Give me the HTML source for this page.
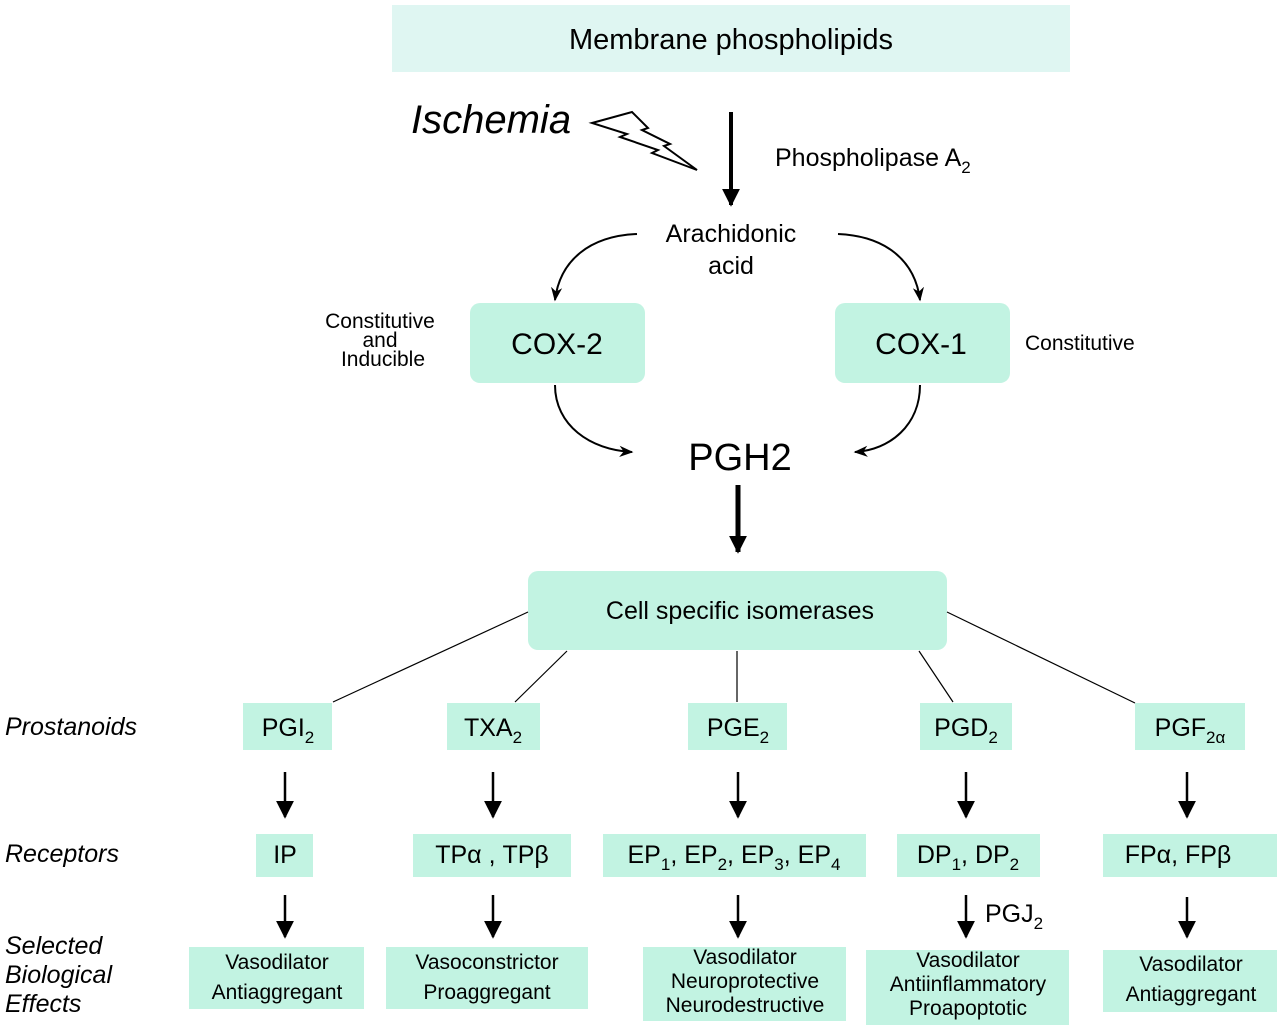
<!DOCTYPE html>
<html><head><meta charset="utf-8"><style>
html,body{margin:0;padding:0;background:#fff}
svg{display:block}
text{font-family:"Liberation Sans",sans-serif;fill:#000}
.b{fill:#c2f3e2}
.i{font-style:italic}
</style></head><body>
<svg width="1280" height="1028" viewBox="0 0 1280 1028" xmlns="http://www.w3.org/2000/svg">
<defs>
<marker id="s" viewBox="0 0 10 10" markerWidth="14" markerHeight="14" refX="9" refY="5" orient="auto" markerUnits="userSpaceOnUse"><path d="M0,1 L10,5 L0,9 L3,5 z" fill="#000"/></marker>
<marker id="t" viewBox="0 0 10 10" markerWidth="18" markerHeight="20" refX="9" refY="5" orient="auto" markerUnits="userSpaceOnUse"><path d="M0,0 L10,5 L0,10 z" fill="#000"/></marker>
</defs>
<rect x="392" y="5" width="678" height="67" fill="#dff6f2"/>
<text x="731" y="49" font-size="29" text-anchor="middle">Membrane phospholipids</text>
<text x="411" y="133" font-size="40" class="i">Ischemia</text>
<path d="M592,123 L632,112 L648,128 L642,130 L670,144 L664,146 L697,170 L652,153 L658,150 L620,137 L627,134 Z" fill="#fff" stroke="#000" stroke-width="2"/>
<line x1="731" y1="112" x2="731" y2="205" stroke="#000" stroke-width="4" marker-end="url(#t)"/>
<text x="775" y="166" font-size="25">Phospholipase A<tspan font-size="17" dy="7">2</tspan></text>
<text x="731" y="242" font-size="25" text-anchor="middle">Arachidonic</text>
<text x="731" y="274" font-size="25" text-anchor="middle">acid</text>
<path d="M637,234 C590,236 560,260 555,300" fill="none" stroke="#000" stroke-width="2" marker-end="url(#s)"/>
<path d="M838,234 C885,236 915,260 920,300" fill="none" stroke="#000" stroke-width="2" marker-end="url(#s)"/>
<rect x="470" y="303" width="175" height="80" rx="10" class="b"/>
<rect x="835" y="303" width="175" height="80" rx="10" class="b"/>
<text x="557" y="354" font-size="30" text-anchor="middle">COX-2</text>
<text x="921" y="354" font-size="30" text-anchor="middle">COX-1</text>
<text x="380" y="328" font-size="21" text-anchor="middle">Constitutive</text>
<text x="380" y="347" font-size="21" text-anchor="middle">and</text>
<text x="383" y="366" font-size="21" text-anchor="middle">Inducible</text>
<text x="1025" y="350" font-size="21">Constitutive</text>
<path d="M555,385 C555,425 590,450 632,452" fill="none" stroke="#000" stroke-width="2" marker-end="url(#s)"/>
<path d="M920,385 C920,425 890,450 855,452" fill="none" stroke="#000" stroke-width="2" marker-end="url(#s)"/>
<text x="740" y="470" font-size="38" text-anchor="middle">PGH2</text>
<line x1="738" y1="485" x2="738" y2="552" stroke="#000" stroke-width="5" marker-end="url(#t)"/>
<rect x="528" y="571" width="419" height="79" rx="10" class="b"/>
<text x="740" y="619" font-size="25" text-anchor="middle">Cell specific isomerases</text>
<g stroke="#000" stroke-width="1.2">
<line x1="528" y1="612" x2="333" y2="702"/>
<line x1="567" y1="651" x2="515" y2="702"/>
<line x1="737" y1="651" x2="737" y2="702"/>
<line x1="919" y1="651" x2="953" y2="702"/>
<line x1="947" y1="612" x2="1135" y2="703"/>
</g>
<text x="5" y="735" font-size="25" class="i">Prostanoids</text>
<text x="5" y="862" font-size="25" class="i">Receptors</text>
<text x="5" y="954" font-size="25" class="i">Selected</text>
<text x="5" y="983" font-size="25" class="i">Biological</text>
<text x="5" y="1012" font-size="25" class="i">Effects</text>
<g class="b">
<rect x="243" y="703" width="89" height="47"/>
<rect x="447" y="703" width="93" height="47"/>
<rect x="688" y="703" width="99" height="47"/>
<rect x="920" y="703" width="92" height="47"/>
<rect x="1135" y="703" width="110" height="47"/>
<rect x="256" y="834" width="57" height="43"/>
<rect x="413" y="834" width="158" height="43"/>
<rect x="603" y="834" width="263" height="43"/>
<rect x="897" y="834" width="143" height="43"/>
<rect x="1103" y="834" width="174" height="43"/>
<rect x="189" y="947" width="175" height="62"/>
<rect x="386" y="947" width="202" height="62"/>
<rect x="643" y="947" width="203" height="74"/>
<rect x="866" y="950" width="203" height="75"/>
<rect x="1103" y="950" width="174" height="62"/>
</g>
<g font-size="25" text-anchor="middle">
<text x="288" y="736">PGI<tspan font-size="17" dy="7">2</tspan></text>
<text x="493" y="736">TXA<tspan font-size="17" dy="7">2</tspan></text>
<text x="738" y="736">PGE<tspan font-size="17" dy="7">2</tspan></text>
<text x="966" y="736">PGD<tspan font-size="17" dy="7">2</tspan></text>
<text x="1190" y="736">PGF<tspan font-size="17" dy="7">2α</tspan></text>
<text x="285" y="863">IP</text>
<text x="492" y="863">TPα , TPβ</text>
<text x="734" y="863">EP<tspan font-size="17" dy="7">1</tspan><tspan dy="-7">, EP</tspan><tspan font-size="17" dy="7">2</tspan><tspan dy="-7">, EP</tspan><tspan font-size="17" dy="7">3</tspan><tspan dy="-7">, EP</tspan><tspan font-size="17" dy="7">4</tspan></text>
<text x="968" y="863">DP<tspan font-size="17" dy="7">1</tspan><tspan dy="-7">, DP</tspan><tspan font-size="17" dy="7">2</tspan></text>
<text x="1178" y="863">FPα, FPβ</text>
</g>
<g stroke="#000" stroke-width="2.5">
<line x1="285" y1="772" x2="285" y2="817" marker-end="url(#t)"/>
<line x1="493" y1="772" x2="493" y2="817" marker-end="url(#t)"/>
<line x1="738" y1="772" x2="738" y2="817" marker-end="url(#t)"/>
<line x1="966" y1="772" x2="966" y2="817" marker-end="url(#t)"/>
<line x1="1187" y1="772" x2="1187" y2="817" marker-end="url(#t)"/>
<line x1="285" y1="895" x2="285" y2="937" marker-end="url(#t)"/>
<line x1="493" y1="895" x2="493" y2="937" marker-end="url(#t)"/>
<line x1="738" y1="895" x2="738" y2="937" marker-end="url(#t)"/>
<line x1="966" y1="895" x2="966" y2="937" marker-end="url(#t)"/>
<line x1="1187" y1="897" x2="1187" y2="937" marker-end="url(#t)"/>
</g>
<text x="985" y="922" font-size="25">PGJ<tspan font-size="17" dy="7">2</tspan></text>
<g font-size="21" text-anchor="middle">
<text x="277" y="969">Vasodilator</text>
<text x="277" y="999">Antiaggregant</text>
<text x="487" y="969">Vasoconstrictor</text>
<text x="487" y="999">Proaggregant</text>
<text x="745" y="964">Vasodilator</text>
<text x="745" y="988">Neuroprotective</text>
<text x="745" y="1012">Neurodestructive</text>
<text x="968" y="967">Vasodilator</text>
<text x="968" y="991">Antiinflammatory</text>
<text x="968" y="1015">Proapoptotic</text>
<text x="1191" y="971">Vasodilator</text>
<text x="1191" y="1001">Antiaggregant</text>
</g>
</svg>
</body></html>
